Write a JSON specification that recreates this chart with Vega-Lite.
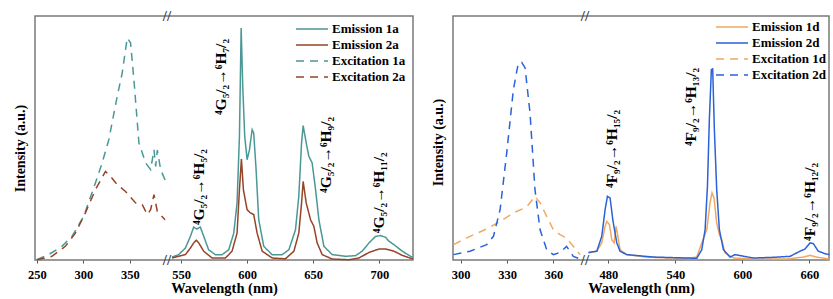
{
  "$schema": "https://vega.github.io/schema/vega-lite/v6.json",
  "padding": {"left": 12, "top": 8, "right": 10, "bottom": 2},
  "background": "white",
  "config": {
    "font": "Liberation Serif",
    "view": {"stroke": "#7a7a7a", "strokeWidth": 1.5},
    "axis": {"labelFont": "Liberation Serif", "labelFontWeight": "bold", "labelFontSize": 12.5, "labelColor": "black", "titleFont": "Liberation Serif", "titleFontWeight": "bold", "titleFontSize": 14.5, "titleColor": "black", "grid": false, "domain": false, "tickColor": "#555", "tickSize": 3},
    "legend": {"labelFont": "Liberation Serif", "labelFontWeight": "bold", "labelFontSize": 13, "labelColor": "black", "symbolType": "stroke", "symbolSize": 1024, "symbolStrokeWidth": 2, "clipHeight": 16, "rowPadding": 0, "padding": 0, "title": null, "labelOffset": 3},
    "text": {"font": "Liberation Serif", "fontWeight": "bold"},
    "line": {"strokeWidth": 1.5}
  },
  "datasets": {
    "a_exc": [
      {"s": "Excitation 1a", "wl": 250, "v": 0.1}, {"s": "Excitation 1a", "wl": 262.6, "v": 2.2}, {"s": "Excitation 1a", "wl": 277, "v": 5.6}, {"s": "Excitation 1a", "wl": 287.8, "v": 9.7}, {"s": "Excitation 1a", "wl": 300.4, "v": 17.9}, {"s": "Excitation 1a", "wl": 313, "v": 31.6}, {"s": "Excitation 1a", "wl": 320.2, "v": 39.8}, {"s": "Excitation 1a", "wl": 327.4, "v": 49.3}, {"s": "Excitation 1a", "wl": 336.4, "v": 67}, {"s": "Excitation 1a", "wl": 341.8, "v": 76.6}, {"s": "Excitation 1a", "wl": 347.2, "v": 91}, {"s": "Excitation 1a", "wl": 350.8, "v": 89}, {"s": "Excitation 1a", "wl": 354.4, "v": 73.9}, {"s": "Excitation 1a", "wl": 359.8, "v": 48}, {"s": "Excitation 1a", "wl": 367, "v": 39.8}, {"s": "Excitation 1a", "wl": 372.4, "v": 37}, {"s": "Excitation 1a", "wl": 376, "v": 45.2}, {"s": "Excitation 1a", "wl": 377.8, "v": 38.4}, {"s": "Excitation 1a", "wl": 379.6, "v": 45}, {"s": "Excitation 1a", "wl": 383.2, "v": 37}, {"s": "Excitation 1a", "wl": 388.6, "v": 32.2},
      {"s": "Excitation 2a", "wl": 250, "v": 0.1}, {"s": "Excitation 2a", "wl": 266.2, "v": 1.5}, {"s": "Excitation 2a", "wl": 280.6, "v": 5.6}, {"s": "Excitation 2a", "wl": 291.4, "v": 11}, {"s": "Excitation 2a", "wl": 302.2, "v": 19.3}, {"s": "Excitation 2a", "wl": 313, "v": 28.8}, {"s": "Excitation 2a", "wl": 323.8, "v": 36.3}, {"s": "Excitation 2a", "wl": 329.2, "v": 34.3}, {"s": "Excitation 2a", "wl": 336.4, "v": 30.9}, {"s": "Excitation 2a", "wl": 345.4, "v": 28.1}, {"s": "Excitation 2a", "wl": 356.2, "v": 23.4}, {"s": "Excitation 2a", "wl": 363.4, "v": 22.7}, {"s": "Excitation 2a", "wl": 368.8, "v": 18.6}, {"s": "Excitation 2a", "wl": 372.4, "v": 20.6}, {"s": "Excitation 2a", "wl": 376, "v": 26.8}, {"s": "Excitation 2a", "wl": 379.6, "v": 19.9}, {"s": "Excitation 2a", "wl": 387.9, "v": 16.5}
    ],
    "a_em": [
      {"s": "Emission 1a", "wl": 543.2, "v": 1.2}, {"s": "Emission 1a", "wl": 548.2, "v": 2.2}, {"s": "Emission 1a", "wl": 553.3, "v": 4.9}, {"s": "Emission 1a", "wl": 557.1, "v": 9.7}, {"s": "Emission 1a", "wl": 559.6, "v": 13.5}, {"s": "Emission 1a", "wl": 562.1, "v": 12.7}, {"s": "Emission 1a", "wl": 564.6, "v": 13.5}, {"s": "Emission 1a", "wl": 567.2, "v": 9.7}, {"s": "Emission 1a", "wl": 570.9, "v": 4.2}, {"s": "Emission 1a", "wl": 576, "v": 2.2}, {"s": "Emission 1a", "wl": 581.1, "v": 2.2}, {"s": "Emission 1a", "wl": 586.1, "v": 4.2}, {"s": "Emission 1a", "wl": 589.9, "v": 11}, {"s": "Emission 1a", "wl": 592.4, "v": 23.4}, {"s": "Emission 1a", "wl": 594.2, "v": 50.7}, {"s": "Emission 1a", "wl": 595.5, "v": 95.1}, {"s": "Emission 1a", "wl": 596.7, "v": 71.2}, {"s": "Emission 1a", "wl": 598.2, "v": 50.7}, {"s": "Emission 1a", "wl": 600, "v": 41.1}, {"s": "Emission 1a", "wl": 601.8, "v": 45.2}, {"s": "Emission 1a", "wl": 603.8, "v": 53.4}, {"s": "Emission 1a", "wl": 605, "v": 52}, {"s": "Emission 1a", "wl": 606.8, "v": 37}, {"s": "Emission 1a", "wl": 608.8, "v": 16.5}, {"s": "Emission 1a", "wl": 612.6, "v": 5.6}, {"s": "Emission 1a", "wl": 618.9, "v": 2.2}, {"s": "Emission 1a", "wl": 626.5, "v": 2.2}, {"s": "Emission 1a", "wl": 631.6, "v": 4.2}, {"s": "Emission 1a", "wl": 636.6, "v": 12.4}, {"s": "Emission 1a", "wl": 639.1, "v": 26.1}, {"s": "Emission 1a", "wl": 641.2, "v": 48}, {"s": "Emission 1a", "wl": 642.4, "v": 55.1}, {"s": "Emission 1a", "wl": 644.7, "v": 48}, {"s": "Emission 1a", "wl": 646.7, "v": 42.5}, {"s": "Emission 1a", "wl": 649.2, "v": 39.8}, {"s": "Emission 1a", "wl": 651.8, "v": 28.8}, {"s": "Emission 1a", "wl": 654.3, "v": 16.5}, {"s": "Emission 1a", "wl": 658.1, "v": 5.6}, {"s": "Emission 1a", "wl": 664.4, "v": 2.2}, {"s": "Emission 1a", "wl": 674.5, "v": 1.5}, {"s": "Emission 1a", "wl": 682.1, "v": 1.8}, {"s": "Emission 1a", "wl": 687.1, "v": 3.6}, {"s": "Emission 1a", "wl": 692.2, "v": 7}, {"s": "Emission 1a", "wl": 697.2, "v": 9.7}, {"s": "Emission 1a", "wl": 701, "v": 10}, {"s": "Emission 1a", "wl": 704.8, "v": 9.3}, {"s": "Emission 1a", "wl": 707.3, "v": 7.7}, {"s": "Emission 1a", "wl": 711.1, "v": 6.3}, {"s": "Emission 1a", "wl": 717.4, "v": 3.6}, {"s": "Emission 1a", "wl": 723.7, "v": 1.5}, {"s": "Emission 1a", "wl": 725.5, "v": 1.2},
      {"s": "Emission 2a", "wl": 543.2, "v": 0.8}, {"s": "Emission 2a", "wl": 553.3, "v": 2.2}, {"s": "Emission 2a", "wl": 557.1, "v": 4.9}, {"s": "Emission 2a", "wl": 559.6, "v": 7}, {"s": "Emission 2a", "wl": 561.6, "v": 8.1}, {"s": "Emission 2a", "wl": 563.4, "v": 7}, {"s": "Emission 2a", "wl": 567.2, "v": 3.6}, {"s": "Emission 2a", "wl": 573.5, "v": 0.8}, {"s": "Emission 2a", "wl": 583.6, "v": 0.8}, {"s": "Emission 2a", "wl": 588.6, "v": 3.6}, {"s": "Emission 2a", "wl": 592.4, "v": 11}, {"s": "Emission 2a", "wl": 594.2, "v": 28.8}, {"s": "Emission 2a", "wl": 595.7, "v": 41.4}, {"s": "Emission 2a", "wl": 597.2, "v": 28.8}, {"s": "Emission 2a", "wl": 600, "v": 20.6}, {"s": "Emission 2a", "wl": 602.5, "v": 19.3}, {"s": "Emission 2a", "wl": 605, "v": 18.6}, {"s": "Emission 2a", "wl": 607.6, "v": 11}, {"s": "Emission 2a", "wl": 611.4, "v": 3.6}, {"s": "Emission 2a", "wl": 619, "v": 0.8}, {"s": "Emission 2a", "wl": 629, "v": 0.5}, {"s": "Emission 2a", "wl": 635.4, "v": 3.6}, {"s": "Emission 2a", "wl": 639.1, "v": 11}, {"s": "Emission 2a", "wl": 641.2, "v": 23.4}, {"s": "Emission 2a", "wl": 642.4, "v": 32.2}, {"s": "Emission 2a", "wl": 644.7, "v": 23.4}, {"s": "Emission 2a", "wl": 648, "v": 16.5}, {"s": "Emission 2a", "wl": 650.5, "v": 13.8}, {"s": "Emission 2a", "wl": 653, "v": 7}, {"s": "Emission 2a", "wl": 656.8, "v": 2.2}, {"s": "Emission 2a", "wl": 664.4, "v": 0.4}, {"s": "Emission 2a", "wl": 677, "v": 0.1}, {"s": "Emission 2a", "wl": 684.6, "v": 0.8}, {"s": "Emission 2a", "wl": 692.2, "v": 3.1}, {"s": "Emission 2a", "wl": 699.7, "v": 4.5}, {"s": "Emission 2a", "wl": 704.8, "v": 4.5}, {"s": "Emission 2a", "wl": 711.1, "v": 3.6}, {"s": "Emission 2a", "wl": 717.4, "v": 1.9}, {"s": "Emission 2a", "wl": 725.5, "v": 0.4}
    ],
    "b_exc": [
      {"s": "Excitation 1d", "wl": 295.3, "v": 6.3}, {"s": "Excitation 1d", "wl": 306, "v": 9.7}, {"s": "Excitation 1d", "wl": 316.8, "v": 12.7}, {"s": "Excitation 1d", "wl": 325.5, "v": 15.8}, {"s": "Excitation 1d", "wl": 334.1, "v": 19.3}, {"s": "Excitation 1d", "wl": 342.7, "v": 21.7}, {"s": "Excitation 1d", "wl": 348.1, "v": 26.1}, {"s": "Excitation 1d", "wl": 351.4, "v": 23.4}, {"s": "Excitation 1d", "wl": 355.7, "v": 17.9}, {"s": "Excitation 1d", "wl": 360, "v": 12.4}, {"s": "Excitation 1d", "wl": 364.3, "v": 10.4}, {"s": "Excitation 1d", "wl": 368.6, "v": 9}, {"s": "Excitation 1d", "wl": 372.9, "v": 5.6}, {"s": "Excitation 1d", "wl": 377.3, "v": 2.2},
      {"s": "Excitation 2d", "wl": 295.3, "v": 2.2}, {"s": "Excitation 2d", "wl": 306, "v": 3.6}, {"s": "Excitation 2d", "wl": 316.8, "v": 6.3}, {"s": "Excitation 2d", "wl": 321.2, "v": 9.7}, {"s": "Excitation 2d", "wl": 325.5, "v": 20.6}, {"s": "Excitation 2d", "wl": 329.8, "v": 43.9}, {"s": "Excitation 2d", "wl": 334.1, "v": 69.8}, {"s": "Excitation 2d", "wl": 337.3, "v": 80.7}, {"s": "Excitation 2d", "wl": 339.5, "v": 81}, {"s": "Excitation 2d", "wl": 341.7, "v": 78.7}, {"s": "Excitation 2d", "wl": 344.9, "v": 60.2}, {"s": "Excitation 2d", "wl": 348.1, "v": 28.8}, {"s": "Excitation 2d", "wl": 351.4, "v": 12.4}, {"s": "Excitation 2d", "wl": 355.7, "v": 4.2}, {"s": "Excitation 2d", "wl": 360, "v": 2.2}, {"s": "Excitation 2d", "wl": 364.3, "v": 3.1}, {"s": "Excitation 2d", "wl": 368.6, "v": 5.6}, {"s": "Excitation 2d", "wl": 372.9, "v": 1.5}, {"s": "Excitation 2d", "wl": 377.3, "v": 0.4}
    ],
    "b_em": [
      {"s": "Emission 1d", "wl": 462.1, "v": 2.9}, {"s": "Emission 1d", "wl": 469.6, "v": 3.6}, {"s": "Emission 1d", "wl": 474, "v": 7}, {"s": "Emission 1d", "wl": 477, "v": 13.8}, {"s": "Emission 1d", "wl": 478.5, "v": 15.8}, {"s": "Emission 1d", "wl": 480.9, "v": 14.5}, {"s": "Emission 1d", "wl": 483, "v": 8.3}, {"s": "Emission 1d", "wl": 485.1, "v": 7}, {"s": "Emission 1d", "wl": 486.9, "v": 13.8}, {"s": "Emission 1d", "wl": 488, "v": 11}, {"s": "Emission 1d", "wl": 490.4, "v": 4.2}, {"s": "Emission 1d", "wl": 496.4, "v": 2.2}, {"s": "Emission 1d", "wl": 514.3, "v": 1.2}, {"s": "Emission 1d", "wl": 535.2, "v": 0.8}, {"s": "Emission 1d", "wl": 550.1, "v": 0.7}, {"s": "Emission 1d", "wl": 559.1, "v": 1.2}, {"s": "Emission 1d", "wl": 563.6, "v": 7}, {"s": "Emission 1d", "wl": 568.1, "v": 12.4}, {"s": "Emission 1d", "wl": 571, "v": 23.4}, {"s": "Emission 1d", "wl": 572.8, "v": 27.5}, {"s": "Emission 1d", "wl": 574.6, "v": 25.4}, {"s": "Emission 1d", "wl": 577, "v": 15.2}, {"s": "Emission 1d", "wl": 579.4, "v": 10.4}, {"s": "Emission 1d", "wl": 581.5, "v": 8.3}, {"s": "Emission 1d", "wl": 584.5, "v": 2.9}, {"s": "Emission 1d", "wl": 592, "v": 0.8}, {"s": "Emission 1d", "wl": 609.9, "v": 0.4}, {"s": "Emission 1d", "wl": 639.7, "v": 0.4}, {"s": "Emission 1d", "wl": 654.6, "v": 1.2}, {"s": "Emission 1d", "wl": 660.6, "v": 1.9}, {"s": "Emission 1d", "wl": 666.6, "v": 1.2}, {"s": "Emission 1d", "wl": 677.9, "v": 0.4},
      {"s": "Emission 2d", "wl": 462.1, "v": 3.1}, {"s": "Emission 2d", "wl": 469.6, "v": 3.6}, {"s": "Emission 2d", "wl": 474, "v": 9.7}, {"s": "Emission 2d", "wl": 477, "v": 20.6}, {"s": "Emission 2d", "wl": 479.1, "v": 26.1}, {"s": "Emission 2d", "wl": 481.5, "v": 25.4}, {"s": "Emission 2d", "wl": 483.9, "v": 16.5}, {"s": "Emission 2d", "wl": 487.5, "v": 7}, {"s": "Emission 2d", "wl": 490.4, "v": 3.6}, {"s": "Emission 2d", "wl": 496.4, "v": 2.2}, {"s": "Emission 2d", "wl": 520.3, "v": 1.2}, {"s": "Emission 2d", "wl": 559.1, "v": 0.7}, {"s": "Emission 2d", "wl": 563.6, "v": 4.2}, {"s": "Emission 2d", "wl": 566.6, "v": 12.4}, {"s": "Emission 2d", "wl": 568.7, "v": 30.2}, {"s": "Emission 2d", "wl": 570.4, "v": 57.5}, {"s": "Emission 2d", "wl": 572.2, "v": 78}, {"s": "Emission 2d", "wl": 573.4, "v": 78.3}, {"s": "Emission 2d", "wl": 574.9, "v": 53.4}, {"s": "Emission 2d", "wl": 577, "v": 28.8}, {"s": "Emission 2d", "wl": 579.4, "v": 12.4}, {"s": "Emission 2d", "wl": 583, "v": 4.2}, {"s": "Emission 2d", "wl": 589, "v": 1.2}, {"s": "Emission 2d", "wl": 593.4, "v": 2.2}, {"s": "Emission 2d", "wl": 609.9, "v": 0.8}, {"s": "Emission 2d", "wl": 627.8, "v": 1.1}, {"s": "Emission 2d", "wl": 642.7, "v": 1.5}, {"s": "Emission 2d", "wl": 651.6, "v": 3.6}, {"s": "Emission 2d", "wl": 656.1, "v": 4.5}, {"s": "Emission 2d", "wl": 660.6, "v": 7}, {"s": "Emission 2d", "wl": 663.6, "v": 6.7}, {"s": "Emission 2d", "wl": 668, "v": 3.6}, {"s": "Emission 2d", "wl": 674, "v": 2.6}, {"s": "Emission 2d", "wl": 677.9, "v": 2.2}
    ],
    "a_lab": [
      {"t": "⁴G₅/₂→⁶H₅/₂", "wl": 563.5, "v": 14.3},
      {"t": "⁴G₅/₂→⁶H₇/₂", "wl": 580.3, "v": 59.4},
      {"t": "⁴G₅/₂→⁶H₉/₂", "wl": 659.8, "v": 27.5},
      {"t": "⁴G₅/₂→⁶H₁₁/₂", "wl": 700, "v": 11}
    ],
    "b_lab": [
      {"t": "⁴F₉/₂→⁶H₁₅/₂", "wl": 483.3, "v": 29.5},
      {"t": "⁴F₉/₂→⁶H₁₃/₂", "wl": 554.3, "v": 46.7},
      {"t": "⁴F₉/₂→⁶H₁₂/₂", "wl": 660.6, "v": 7.8}
    ],
    "brk": [{"v": 0}, {"v": 100}]
  },
  "resolve": {"scale": {"color": "independent", "strokeDash": "independent"}, "legend": {"color": "independent", "strokeDash": "independent"}},
  "spacing": 13,
  "hconcat": [
    {
      "width": 378,
      "height": 244,
      "resolve": {"scale": {"x": "independent"}, "axis": {"x": "independent"}},
      "layer": [
        {
          "layer": [
            {
              "data": {"name": "a_exc"},
              "mark": {"type": "line", "strokeWidth": 1.5},
              "encoding": {
                "x": {"field": "wl", "type": "quantitative", "scale": {"domain": [248, 390], "range": [0, 132], "nice": false, "zero": false}, "axis": {"orient": "bottom", "values": [250, 300, 350], "title": null, "labelPadding": 5}},
                "y": {"field": "v", "type": "quantitative", "scale": {"domain": [0, 100], "nice": false}, "axis": {"title": "Intensity (a.u.)", "labels": false, "ticks": false, "domain": false, "titlePadding": 8, "titleFontSize": 14, "titleY": 132}},
                "color": {"field": "s", "type": "nominal", "scale": {"domain": ["Emission 1a", "Emission 2a", "Excitation 1a", "Excitation 2a"], "range": ["#4a9896", "#964428", "#4a9896", "#964428"]}, "legend": {"orient": "none", "legendX": 260, "legendY": 5}},
                "strokeDash": {"field": "s", "type": "nominal", "scale": {"domain": ["Emission 1a", "Emission 2a", "Excitation 1a", "Excitation 2a"], "range": [[1, 0], [1, 0], [8, 6], [8, 6]]}, "legend": {"orient": "none", "legendX": 260, "legendY": 5}}
              }
            },
            {
              "mark": {"type": "text", "text": "(a)", "fontSize": 23, "color": "#222", "align": "center", "baseline": "middle"},
              "encoding": {
                "x": {"datum": 284, "type": "quantitative", "scale": {"domain": [248, 390], "range": [0, 132], "nice": false, "zero": false}},
                "y": {"datum": 90, "type": "quantitative"}
              }
            },
            {
              "data": {"name": "brk"},
              "mark": {"type": "text", "text": "//", "fontSize": 15, "fontWeight": "bold", "color": "#444", "align": "center", "baseline": "middle"},
              "encoding": {
                "x": {"datum": 390, "type": "quantitative", "scale": {"domain": [248, 390], "range": [0, 132], "nice": false, "zero": false}},
                "y": {"field": "v", "type": "quantitative"}
              }
            }
          ]
        },
        {
          "layer": [
            {
              "data": {"name": "a_em"},
              "mark": {"type": "line", "strokeWidth": 1.5},
              "encoding": {
                "x": {"field": "wl", "type": "quantitative", "scale": {"domain": [539.4, 725.5], "range": [132, 378], "nice": false, "zero": false}, "axis": {"orient": "bottom", "values": [550, 600, 650, 700], "title": "Wavelength (nm)", "titleX": 189, "titleAlign": "center", "titlePadding": 1, "labelPadding": 5}},
                "y": {"field": "v", "type": "quantitative", "scale": {"domain": [0, 100], "nice": false}},
                "color": {"field": "s", "type": "nominal", "scale": {"domain": ["Emission 1a", "Emission 2a", "Excitation 1a", "Excitation 2a"], "range": ["#4a9896", "#964428", "#4a9896", "#964428"]}},
                "strokeDash": {"field": "s", "type": "nominal", "scale": {"domain": ["Emission 1a", "Emission 2a", "Excitation 1a", "Excitation 2a"], "range": [[1, 0], [1, 0], [8, 6], [8, 6]]}}
              }
            },
            {
              "data": {"name": "a_lab"},
              "mark": {"type": "text", "angle": 270, "align": "left", "baseline": "middle", "fontSize": 15.5, "color": "black"},
              "encoding": {
                "x": {"field": "wl", "type": "quantitative", "scale": {"domain": [539.4, 725.5], "range": [132, 378], "nice": false, "zero": false}},
                "y": {"field": "v", "type": "quantitative"},
                "text": {"field": "t"}
              }
            }
          ]
        }
      ]
    },
    {
      "width": 376,
      "height": 244,
      "resolve": {"scale": {"x": "independent"}, "axis": {"x": "independent"}},
      "layer": [
        {
          "layer": [
            {
              "data": {"name": "b_exc"},
              "mark": {"type": "line", "strokeWidth": 1.5},
              "encoding": {
                "x": {"field": "wl", "type": "quantitative", "scale": {"domain": [295, 380.5], "range": [0, 132], "nice": false, "zero": false}, "axis": {"orient": "bottom", "values": [300, 330, 360], "title": null, "labelPadding": 5}},
                "y": {"field": "v", "type": "quantitative", "scale": {"domain": [0, 100], "nice": false}, "axis": {"title": "Intensity (a.u.)", "labels": false, "ticks": false, "domain": false, "titlePadding": 8, "titleFontSize": 14, "titleY": 126}},
                "color": {"field": "s", "type": "nominal", "scale": {"domain": ["Emission 1d", "Emission 2d", "Excitation 1d", "Excitation 2d"], "range": ["#f0a862", "#2a62d8", "#f0a862", "#2a62d8"]}, "legend": {"orient": "none", "legendX": 262, "legendY": 3}},
                "strokeDash": {"field": "s", "type": "nominal", "scale": {"domain": ["Emission 1d", "Emission 2d", "Excitation 1d", "Excitation 2d"], "range": [[1, 0], [1, 0], [8, 6], [8, 6]]}, "legend": {"orient": "none", "legendX": 262, "legendY": 3}}
              }
            },
            {
              "mark": {"type": "text", "text": "(b)", "fontSize": 23, "color": "#222", "align": "center", "baseline": "middle"},
              "encoding": {
                "x": {"datum": 316.4, "type": "quantitative", "scale": {"domain": [295, 380.5], "range": [0, 132], "nice": false, "zero": false}},
                "y": {"datum": 90, "type": "quantitative"}
              }
            },
            {
              "data": {"name": "brk"},
              "mark": {"type": "text", "text": "//", "fontSize": 15, "fontWeight": "bold", "color": "#444", "align": "center", "baseline": "middle"},
              "encoding": {
                "x": {"datum": 380.5, "type": "quantitative", "scale": {"domain": [295, 380.5], "range": [0, 132], "nice": false, "zero": false}},
                "y": {"field": "v", "type": "quantitative"}
              }
            }
          ]
        },
        {
          "layer": [
            {
              "data": {"name": "b_em"},
              "mark": {"type": "line", "strokeWidth": 1.5},
              "encoding": {
                "x": {"field": "wl", "type": "quantitative", "scale": {"domain": [459, 677.6], "range": [132, 376], "nice": false, "zero": false}, "axis": {"orient": "bottom", "values": [480, 540, 600, 660], "title": "Wavelength (nm)", "titleX": 188, "titleAlign": "center", "titlePadding": 1, "labelPadding": 5}},
                "y": {"field": "v", "type": "quantitative", "scale": {"domain": [0, 100], "nice": false}},
                "color": {"field": "s", "type": "nominal", "scale": {"domain": ["Emission 1d", "Emission 2d", "Excitation 1d", "Excitation 2d"], "range": ["#f0a862", "#2a62d8", "#f0a862", "#2a62d8"]}},
                "strokeDash": {"field": "s", "type": "nominal", "scale": {"domain": ["Emission 1d", "Emission 2d", "Excitation 1d", "Excitation 2d"], "range": [[1, 0], [1, 0], [8, 6], [8, 6]]}}
              }
            },
            {
              "data": {"name": "b_lab"},
              "mark": {"type": "text", "angle": 270, "align": "left", "baseline": "middle", "fontSize": 15.5, "color": "black"},
              "encoding": {
                "x": {"field": "wl", "type": "quantitative", "scale": {"domain": [459, 677.6], "range": [132, 376], "nice": false, "zero": false}},
                "y": {"field": "v", "type": "quantitative"},
                "text": {"field": "t"}
              }
            }
          ]
        }
      ]
    }
  ]
}
